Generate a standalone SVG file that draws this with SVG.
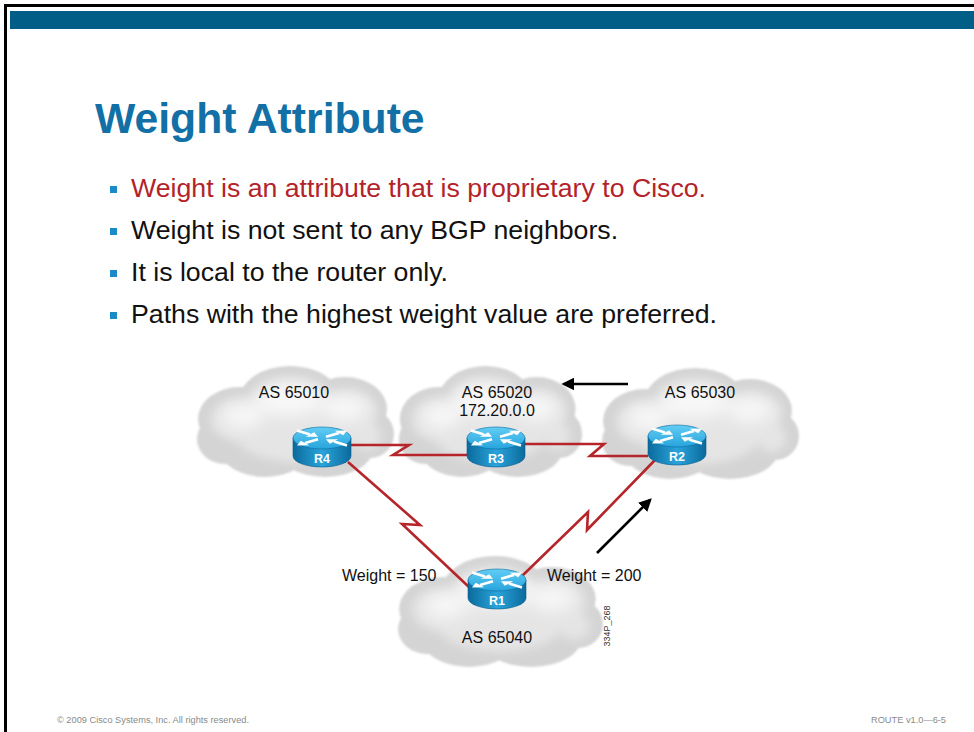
<svg xmlns="http://www.w3.org/2000/svg" xmlns:xlink="http://www.w3.org/1999/xlink" width="974" height="732" viewBox="0 0 974 732">
  <defs>
    <style>
      .sans{font-family:"Liberation Sans",Arial,Helvetica,sans-serif}
      .title{font-weight:bold;font-size:42.7px;fill:#1270a6}
      .bul{font-size:26.7px;fill:#111}
      .red{fill:#b3232a}
      .sq{fill:#1b8bc8}
      .lbl{font-size:16px;fill:#111}
      .mid{text-anchor:middle}
      .rname{font-weight:bold;font-size:12.5px;fill:#fff;text-anchor:middle}
      .link{fill:none;stroke:#b5252a;stroke-width:2.6;stroke-linejoin:miter;stroke-miterlimit:10}
      .flow{fill:none;stroke:#000;stroke-width:2.6}
      .foot{font-size:8.5px;fill:#8a8a8a}
      .tag{font-size:9px;fill:#333}
    </style>

    <!-- soft edges for the cloud puffs -->
    <filter id="soft" x="-10%" y="-10%" width="120%" height="120%">
      <feGaussianBlur stdDeviation="1.2"/>
    </filter>
    <filter id="haze" x="-30%" y="-30%" width="160%" height="160%">
      <feGaussianBlur stdDeviation="5"/>
    </filter>
    <filter id="glow" x="-40%" y="-40%" width="180%" height="180%">
      <feGaussianBlur stdDeviation="8"/>
    </filter>

    <!-- router colours -->
    <linearGradient id="rside" x1="0" y1="0" x2="1" y2="0">
      <stop offset="0" stop-color="#0b6a9c"/>
      <stop offset="0.5" stop-color="#2aa4db"/>
      <stop offset="1" stop-color="#0b6a9c"/>
    </linearGradient>
    <linearGradient id="rtop" x1="0" y1="0" x2="0" y2="1">
      <stop offset="0" stop-color="#62cdf4"/>
      <stop offset="1" stop-color="#27a4dc"/>
    </linearGradient>

    <marker id="ah" viewBox="0 0 10 10" refX="8" refY="5" markerWidth="5" markerHeight="5" orient="auto" markerUnits="strokeWidth">
      <path d="M0 0 L10 5 L0 10 Z" fill="#000"/>
    </marker>

    <!-- cloud, 200 x 115 local box -->
    <g id="cloud">
      <g fill="#d4d4d4" filter="url(#soft)">
        <ellipse cx="45" cy="55" rx="42" ry="32"/>
        <ellipse cx="95" cy="35" rx="50" ry="33"/>
        <ellipse cx="150" cy="45" rx="42" ry="32"/>
        <ellipse cx="175" cy="70" rx="24" ry="24"/>
        <ellipse cx="30" cy="75" rx="28" ry="25"/>
        <ellipse cx="70" cy="85" rx="45" ry="28"/>
        <ellipse cx="130" cy="85" rx="48" ry="28"/>
        <ellipse cx="100" cy="60" rx="70" ry="40"/>
      </g>
      <g fill="#e5e5e5" filter="url(#haze)">
        <ellipse cx="48" cy="56" rx="32" ry="22"/>
        <ellipse cx="95" cy="38" rx="40" ry="24"/>
        <ellipse cx="150" cy="48" rx="32" ry="22"/>
        <ellipse cx="100" cy="70" rx="60" ry="28"/>
        <ellipse cx="172" cy="72" rx="14" ry="14"/>
      </g>
      <g fill="#f8f8f8" filter="url(#glow)">
        <ellipse cx="95" cy="36" rx="34" ry="16"/>
        <ellipse cx="48" cy="52" rx="20" ry="12"/>
        <ellipse cx="150" cy="44" rx="22" ry="12"/>
      </g>
    </g>

    <!-- router: top face centred on the origin -->
    <g id="router">
      <path d="M-29 0 L-29 18 A29 11 0 0 0 29 18 L29 0 Z" fill="url(#rside)" stroke="#0a5d8c" stroke-width="0.6"/>
      <ellipse cx="0" cy="0" rx="29" ry="11" fill="url(#rtop)" stroke="#0c6a9e" stroke-width="0.6"/>
      <g transform="scale(1,0.4)">
        <g stroke="#fff" stroke-width="2.6" fill="none">
          <path d="M-25 -18.75 L-12 -9" vector-effect="non-scaling-stroke"/>
          <path d="M25 18.75 L12 9" vector-effect="non-scaling-stroke"/>
          <path d="M4 -3 L17 -12.75" vector-effect="non-scaling-stroke"/>
          <path d="M-4 3 L-17 12.75" vector-effect="non-scaling-stroke"/>
        </g>
        <g fill="#fff">
          <polygon points="-4,-3 -16.2,-3.4 -7.8,-14.6"/>
          <polygon points="4,3 16.2,3.4 7.8,14.6"/>
          <polygon points="25,-18.75 21.2,-7.15 12.8,-18.35"/>
          <polygon points="-25,18.75 -21.2,7.15 -12.8,18.35"/>
        </g>
      </g>
    </g>
  </defs>

  <rect width="974" height="732" fill="#fff"/>

  <!-- slide frame and header band -->
  <rect x="4" y="4" width="970" height="3" fill="#000"/>
  <rect x="4" y="4" width="3" height="728" fill="#000"/>
  <rect x="10" y="11" width="964" height="18" fill="#025e87"/>

  <text class="sans title" x="95" y="133">Weight Attribute</text>

  <!-- bullet list -->
  <g id="bullets">
    <rect class="sq" x="110" y="186" width="7" height="7"/>
    <text class="sans bul red" x="131" y="197">Weight is an attribute that is proprietary to Cisco.</text>
    <rect class="sq" x="110" y="228" width="7" height="7"/>
    <text class="sans bul" x="131" y="239">Weight is not sent to any BGP neighbors.</text>
    <rect class="sq" x="110" y="270" width="7" height="7"/>
    <text class="sans bul" x="131" y="281">It is local to the router only.</text>
    <rect class="sq" x="110" y="312" width="7" height="7"/>
    <text class="sans bul" x="131" y="323">Paths with the highest weight value are preferred.</text>
  </g>

  <!-- autonomous systems -->
  <g id="as65010">
    <use xlink:href="#cloud" transform="translate(195,364)"/>
    <text class="sans lbl mid" x="294" y="398">AS 65010</text>
  </g>
  <g id="as65020">
    <use xlink:href="#cloud" transform="translate(397,364) scale(0.93,1)"/>
    <text class="sans lbl mid" x="497" y="398">AS 65020</text>
    <text class="sans lbl mid" x="497" y="416">172.20.0.0</text>
  </g>
  <g id="as65030">
    <use xlink:href="#cloud" transform="translate(600,366)"/>
    <text class="sans lbl mid" x="700" y="398">AS 65030</text>
  </g>
  <g id="as65040">
    <use xlink:href="#cloud" transform="translate(396,554) scale(1.04,1)"/>
    <text class="sans lbl mid" x="497" y="643">AS 65040</text>
  </g>

  <!-- serial links and update flow -->
  <g id="connectors">
    <path class="link" d="M351 445 L409 445 L393 455 L468 455"/>
    <path class="link" d="M524 444 L604 444 L590 456 L648 456"/>
    <path class="link" d="M348 462 L420 525 L402 524 L470 588"/>
    <path class="link" d="M522 576 L588 512 L587 530 L655 460"/>
    <path class="flow" d="M628 384 L564 384" marker-end="url(#ah)"/>
    <path class="flow" d="M597 553 L650 500" marker-end="url(#ah)"/>
  </g>

  <!-- routers -->
  <g id="r4">
    <use xlink:href="#router" transform="translate(322,438)"/>
    <text class="sans rname" x="322" y="463">R4</text>
  </g>
  <g id="r3">
    <use xlink:href="#router" transform="translate(496,438)"/>
    <text class="sans rname" x="496" y="463">R3</text>
  </g>
  <g id="r2">
    <use xlink:href="#router" transform="translate(677,436)"/>
    <text class="sans rname" x="677" y="461">R2</text>
  </g>
  <g id="r1">
    <use xlink:href="#router" transform="translate(497,580)"/>
    <text class="sans rname" x="497" y="605">R1</text>
  </g>

  <text class="sans lbl" x="342" y="581">Weight = 150</text>
  <text class="sans lbl" x="547" y="581">Weight = 200</text>
  <text class="sans tag mid" transform="translate(610,626) rotate(-90)">334P_268</text>

  <!-- footer -->
  <text class="sans foot" x="57" y="723" textLength="192" lengthAdjust="spacingAndGlyphs">© 2009 Cisco Systems, Inc. All rights reserved.</text>
  <text class="sans foot" x="871" y="723" textLength="75" lengthAdjust="spacingAndGlyphs">ROUTE v1.0—6-5</text>
</svg>
